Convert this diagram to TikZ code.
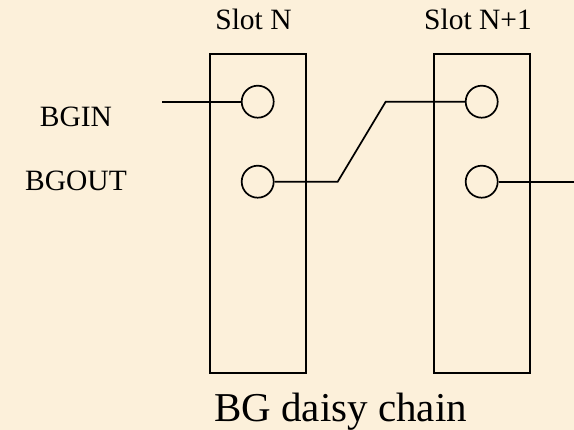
\documentclass[tikz,border=0pt]{standalone}
\usepackage{fontspec}
\setmainfont{Liberation Serif}
\definecolor{parch}{RGB}{252,240,218}
\begin{document}
\begin{tikzpicture}[x=1pt,y=-1pt,
  slotbox/.style={draw=black,line width=1.7pt,minimum width=95.7pt,minimum height=319pt,inner sep=0pt},
  pin/.style={circle,draw=black,line width=1.7pt,minimum size=32pt,inner sep=0pt},
  wire/.style={line width=1.7pt,black},
  lbl/.style={font=\fontsize{29.5}{34}\selectfont,anchor=base,inner sep=0pt},
  ttl/.style={font=\fontsize{41}{48}\selectfont,anchor=base,inner sep=0pt}]
\fill[parch] (0,0) rectangle (574,430);
\useasboundingbox (0,0) rectangle (574,430);
\node[slotbox] (s1) at (257.85,213.5) {};
\node[slotbox] (s2) at (482,213.5) {};
\node[pin] (c1a) at (257.7,101.7) {};
\node[pin] (c1b) at (257.7,181.7) {};
\node[pin] (c2a) at (481.7,101.7) {};
\node[pin] (c2b) at (481.7,181.7) {};
\coordinate (inL) at (162,101.7);
\coordinate (k1) at (337.7,181.7);
\coordinate (k2) at (385.7,101.7);
\coordinate (outR) at (574,181.7);
\draw[wire] (inL) -- (c1a.west);
\draw[wire] (c1b.east) -- (k1) -- (k2) -- (c2a.west);
\draw[wire] (c2b.east) -- (outR);
\node[lbl] (bgin) at (76,127) {BGIN};
\node[lbl] (bgout) at (76,191) {BGOUT};
\node[lbl] (sn) at (253.5,30) {Slot N};
\node[lbl] (sn1) at (478,30) {Slot N+1};
\node[ttl] (title) at (340.5,421.5) {BG daisy chain};
\end{tikzpicture}
\end{document}
